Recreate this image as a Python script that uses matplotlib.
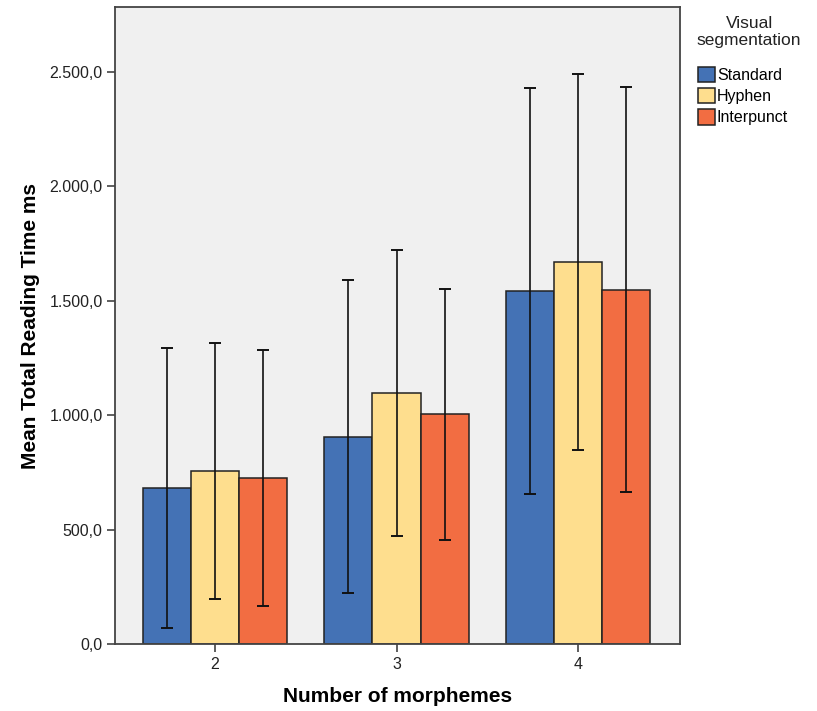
import matplotlib
matplotlib.use("Agg")
import matplotlib.pyplot as plt
from matplotlib.ticker import FuncFormatter
import numpy as np

plt.rcParams["font.family"] = ["Liberation Sans", "DejaVu Sans"]

# data
categories = ["2", "3", "4"]
groups = ["Standard", "Hyphen", "Interpunct"]
standard_mean = [681, 905, 1542]
standard_err = [611, 684, 887]
hyphen_mean = [755, 1097, 1668]
hyphen_err = [558, 626, 822]
interpunct_mean = [725, 1003, 1548]
interpunct_err = [561, 548, 885]

means = [standard_mean, hyphen_mean, interpunct_mean]
errs = [standard_err, hyphen_err, interpunct_err]
colors = ["#4472B5", "#FEDE8E", "#F26D42"]

fig = plt.figure(figsize=(8.17, 7.11), dpi=100)
ax = fig.add_axes([0.1408, 0.0942, 0.6915, 0.8958])
ax.set_facecolor("#F0F0F0")

x = np.arange(len(categories))
w = 0.265
for i, (m, e, c, g) in enumerate(zip(means, errs, colors, groups)):
    pos = x + (i - 1) * w
    ax.bar(pos, m, width=w, color=c, edgecolor="#222222", linewidth=1.1,
           label=g, zorder=2)
    ax.errorbar(pos, m, yerr=e, fmt="none", ecolor="#111111",
                elinewidth=1.2, capsize=4.3, capthick=1.4, zorder=3)

ax.set_xlim(-0.551, 2.562)
ax.set_ylim(0, 2782)
ax.set_xticks(x)
ax.set_xticklabels(categories)
ax.set_yticks([0, 500, 1000, 1500, 2000, 2500])

def euro(v, pos):
    s = "{:,.1f}".format(v)
    return s.replace(",", "X").replace(".", ",").replace("X", ".")

ax.yaxis.set_major_formatter(FuncFormatter(euro))
ax.tick_params(axis="both", labelsize=11.5, labelcolor="#222222",
               length=5.5, width=1.1, color="#333333")
for sp in ax.spines.values():
    sp.set_color("#444444")
    sp.set_linewidth(1.3)

ax.set_xlabel("Number of morphemes", fontsize=15, fontweight="bold",
              labelpad=11)
ax.set_ylabel("Mean Total Reading Time ms", fontsize=15, fontweight="bold",
              labelpad=7)

# legend title drawn separately so the gap below it matches
fig.text(0.917, 0.978, "Visual\nsegmentation", ha="center", va="top",
         fontsize=12.5, color="#222222", linespacing=1.2)
leg = ax.legend(loc="upper left",
                bbox_to_anchor=(0.854, 0.906), bbox_transform=fig.transFigure,
                frameon=False, fontsize=11.5,
                handlelength=1.1, handleheight=1.1, handletextpad=0.1,
                labelspacing=0.32, borderpad=0.0, borderaxespad=0.0)
for h in leg.legend_handles:
    h.set_edgecolor("#222222")

fig.savefig("out.png", dpi=100)
